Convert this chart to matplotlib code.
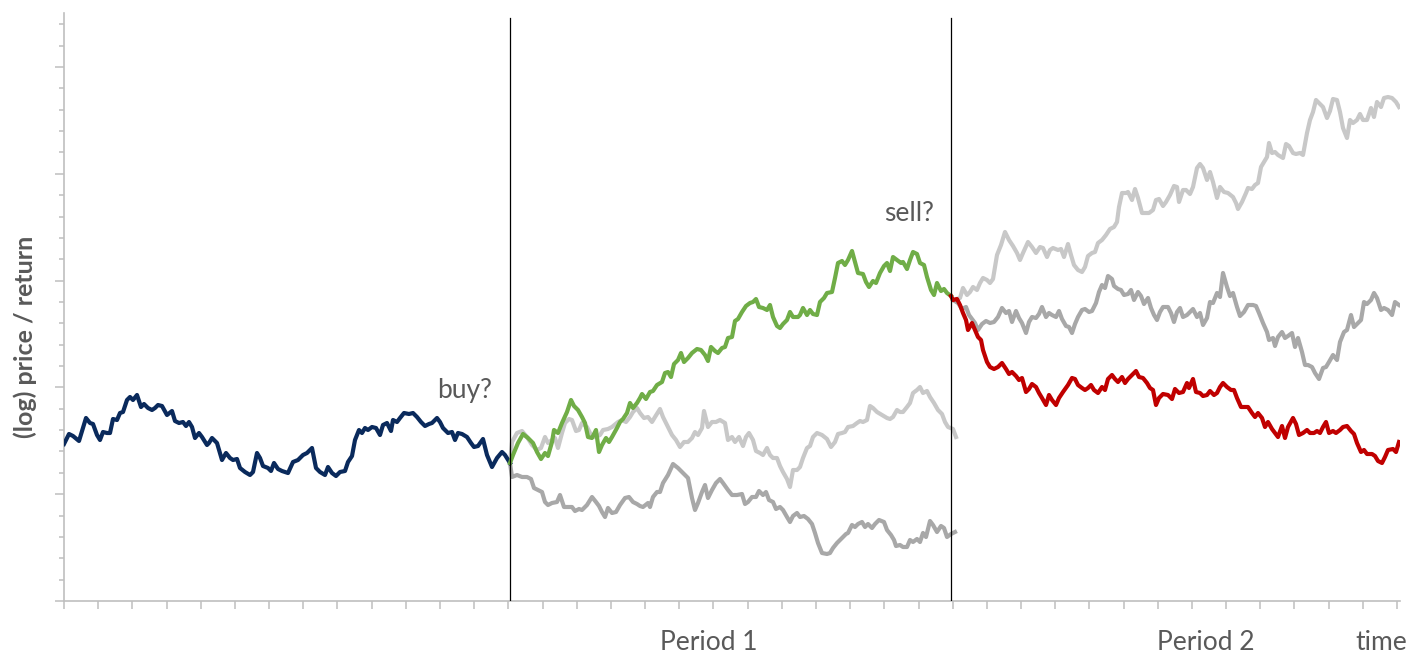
import matplotlib
matplotlib.use("Agg")
import matplotlib.pyplot as plt
from matplotlib.ticker import MultipleLocator

# time in days (one x tick = 34.18 days); value = log price index (one y tick = 21.36 points)
blue_t = [0,1,5,9,15,22,26,29,33,36,39,43,46,49,53,56,59,63,66,69,73,77,80,84,88,91,94,98,103,108,111,115,119,122,125,128,131,135,138,143,145,148,153,158,162,166,169,173,176,181,186,189,193,196,199,204,207,210,214,218,221,224,229,234,239,243,248,252,256,261,264,268,272,276,281,284,288,291,295,298,301,304,308,312,316,319,323,327,329,333,336,340,345,349,353,357,361,365,368,373,376,379,384,388,391,394,398,403,407,410,414,419,423,428,433,438,441,446]
blue_v = [157,159,167,165,160,183,178,177,166,161,169,168,168,182,181,188,189,201,204,201,206,194,197,193,191,193,196,195,186,190,180,178,179,175,179,174,163,168,164,156,158,163,158,141,148,143,141,142,133,129,126,129,148,143,135,133,130,138,132,130,129,128,139,141,146,148,153,133,129,126,134,128,125,129,130,139,145,161,171,168,173,171,174,173,166,176,178,170,181,179,183,188,187,188,184,179,175,177,178,183,179,173,168,169,161,168,167,164,158,154,155,162,146,134,143,149,146,138]

green_t = [446,449,454,459,464,469,473,477,481,484,488,490,494,498,503,507,510,514,518,521,524,528,532,535,538,542,545,548,553,556,559,563,566,569,573,576,578,582,586,589,593,598,601,604,607,610,614,617,620,624,628,633,637,641,644,647,651,654,658,661,664,668,671,674,678,682,686,689,692,695,699,703,706,709,713,716,719,723,726,729,734,736,739,743,746,749,753,756,760,763,768,771,774,778,781,784,788,791,794,799,802,805,809,812,816,820,823,826,829,833,837,839,843,846,849,853,856,860,863,867,870,873,877,880,883,887]
green_v = [138,146,158,167,163,158,149,142,148,145,159,171,168,178,189,201,195,191,184,178,164,163,171,149,156,163,159,164,173,179,182,188,198,193,198,203,207,202,209,210,216,219,228,229,224,237,241,248,239,243,248,252,251,246,240,254,250,248,253,254,263,264,280,282,289,295,298,299,302,294,293,291,296,284,275,273,277,281,289,284,284,286,293,286,291,287,286,299,303,308,309,323,338,340,336,341,350,339,328,327,319,314,320,318,328,335,338,330,344,341,338,339,332,341,349,347,338,336,324,311,306,318,310,312,308,305]

p1_light_t = [446,448,453,458,463,468,473,477,481,484,488,491,494,498,501,505,508,512,515,518,523,527,531,536,539,544,548,554,558,562,566,569,573,576,580,584,588,591,596,599,604,608,612,616,620,624,628,631,634,638,640,644,648,652,656,661,664,668,671,675,679,682,685,689,692,696,699,703,706,709,713,716,719,723,726,729,733,736,739,743,746,749,753,758,763,767,771,774,778,781,784,789,793,796,799,803,806,809,813,818,823,826,829,833,836,839,843,846,849,853,856,859,863,866,870,874,878,881,884,889,892]
p1_light_v = [138,159,168,170,164,156,151,153,164,158,161,163,153,168,178,182,181,170,171,178,174,166,164,166,171,172,174,179,181,179,184,189,193,188,183,184,179,184,192,184,174,166,161,154,159,159,163,169,166,173,190,174,179,179,181,178,161,164,159,164,155,164,168,161,150,148,146,153,146,143,143,135,129,122,114,131,131,134,143,153,155,164,168,166,162,154,159,167,168,169,174,175,178,180,179,181,195,193,189,186,183,182,184,191,189,189,194,198,208,211,214,208,210,204,198,191,187,179,174,172,164]

p1_dark_t = [446,448,453,458,463,467,470,474,478,481,484,488,493,496,500,504,508,511,515,518,523,528,532,535,538,541,544,548,552,556,561,565,569,573,576,579,584,586,589,593,596,599,604,609,614,619,624,628,631,634,638,641,644,648,652,656,659,664,668,673,678,681,684,688,692,695,699,702,705,709,712,716,719,723,726,729,733,736,740,744,748,751,754,758,763,766,769,773,778,782,784,788,791,794,798,801,804,808,811,815,820,823,827,830,832,836,839,843,846,849,853,856,859,862,866,869,873,877,880,883,887,891]
p1_dark_v = [138,124,126,124,124,122,113,111,109,99,96,98,99,106,94,94,94,90,92,91,96,104,99,95,89,84,93,88,89,96,103,104,99,97,95,94,98,94,104,109,109,118,126,137,133,128,123,103,91,98,109,116,103,111,118,122,118,111,106,106,107,97,99,104,104,110,106,109,101,99,92,94,91,84,79,85,88,84,85,82,77,68,58,48,47,48,53,58,63,67,68,76,74,77,79,74,77,73,77,81,79,71,66,61,55,56,54,54,61,59,62,59,68,64,80,76,69,75,73,64,67,69]

red_t = [887,889,893,896,899,902,904,908,911,914,917,919,923,926,930,934,938,942,945,948,952,955,958,962,965,968,972,975,978,982,985,988,992,995,999,1004,1008,1011,1014,1018,1021,1024,1027,1030,1034,1038,1041,1044,1048,1051,1054,1058,1061,1064,1068,1072,1075,1079,1083,1086,1089,1092,1095,1099,1104,1108,1111,1115,1119,1123,1125,1129,1132,1136,1139,1143,1146,1150,1153,1156,1159,1163,1167,1170,1173,1177,1180,1184,1188,1191,1194,1198,1201,1204,1208,1211,1214,1218,1221,1224,1229,1232,1235,1239,1243,1246,1250,1253,1256,1259,1262,1265,1269,1272,1276,1279,1283,1287,1290,1293,1297,1300,1303,1308,1311,1314,1318,1321,1324,1329,1332,1335]
red_v = [305,301,302,296,288,281,271,278,271,264,261,251,239,234,232,234,238,232,227,229,225,221,223,209,212,217,214,208,203,196,206,201,196,203,209,216,223,222,216,213,211,213,216,211,208,214,211,222,226,222,219,224,218,222,226,230,224,223,218,213,211,196,203,207,206,202,212,208,209,218,213,222,209,208,205,206,210,206,208,214,218,214,211,211,203,194,194,194,188,184,188,183,174,179,172,168,164,175,163,174,183,177,166,168,171,168,168,170,168,174,179,168,170,168,171,174,175,170,167,158,149,151,147,147,145,140,138,144,151,152,149,159]

p2_mid_t = [889,894,898,902,905,908,911,914,918,922,926,930,934,938,942,945,948,952,955,958,962,965,968,972,975,978,982,985,988,992,995,998,1002,1005,1008,1011,1014,1018,1021,1025,1028,1032,1035,1038,1041,1044,1048,1050,1054,1057,1060,1064,1067,1070,1074,1077,1080,1084,1087,1090,1093,1096,1099,1104,1107,1110,1113,1116,1119,1123,1126,1129,1133,1136,1139,1143,1146,1149,1153,1156,1159,1163,1166,1169,1173,1176,1180,1184,1189,1192,1195,1199,1203,1205,1209,1211,1214,1218,1221,1224,1228,1231,1234,1238,1241,1244,1248,1251,1255,1259,1262,1265,1269,1273,1276,1280,1283,1287,1290,1293,1297,1300,1303,1307,1310,1313,1317,1320,1324,1328,1331,1335]
p2_mid_v = [301,298,292,294,286,282,278,271,277,280,278,279,284,293,288,290,279,290,283,278,268,279,284,283,287,294,284,288,286,284,290,282,275,274,268,277,284,291,292,289,290,298,309,316,313,325,322,315,312,311,306,307,311,301,309,305,297,303,293,286,281,289,294,294,288,279,289,293,284,286,289,292,284,288,276,283,299,298,308,304,328,314,305,308,294,285,289,296,296,295,288,278,269,261,263,255,264,269,263,265,268,254,263,249,236,236,234,228,222,233,234,239,246,241,259,269,271,286,274,277,281,299,297,301,308,303,291,293,291,286,299,296]

p2_light_t = [889,896,899,903,906,909,913,916,919,923,926,929,933,937,941,945,949,953,956,959,964,968,972,976,979,983,986,989,994,997,1000,1004,1007,1010,1014,1018,1021,1024,1028,1031,1034,1038,1042,1046,1050,1053,1055,1058,1062,1064,1068,1071,1074,1078,1081,1085,1089,1092,1095,1099,1102,1106,1110,1113,1115,1119,1122,1126,1129,1133,1136,1139,1143,1146,1149,1153,1156,1160,1164,1169,1172,1174,1178,1182,1184,1188,1191,1194,1197,1200,1203,1205,1208,1211,1214,1219,1222,1225,1229,1232,1236,1239,1243,1246,1249,1252,1255,1259,1263,1266,1269,1273,1276,1279,1283,1286,1289,1293,1296,1299,1303,1307,1310,1313,1317,1320,1324,1328,1332,1335]
p2_light_v = [301,303,313,306,309,314,311,318,323,321,318,322,346,356,369,361,355,348,341,348,359,354,348,354,353,344,351,353,351,352,344,357,346,336,331,329,334,345,348,349,358,361,366,372,374,379,394,408,408,409,401,412,403,388,388,388,391,401,402,395,399,406,415,414,399,411,411,407,414,433,437,433,421,429,419,403,414,409,408,404,398,392,399,408,413,412,416,418,434,439,444,458,448,449,446,443,457,455,448,447,448,446,468,481,489,501,498,494,483,490,502,501,489,473,463,481,478,481,487,481,481,493,484,499,494,503,504,503,499,494]

period_bounds = [446, 887]
period_labels = ["Period 1", "Period 2"]
period_label_t = [645, 1142]

NAVY = "#0a2a5c"
GREEN = "#70ad47"
RED = "#c00000"
LIGHT = "#c8c8c8"
MID = "#a8a8a8"
TXT = "#595959"
AX = "#bfbfbf"

plt.rcParams['font.family'] = ['Lato', 'DejaVu Sans']

fig = plt.figure(figsize=(14.21, 6.53), dpi=100)
ax = fig.add_axes([64/1421, 52/653, 1336/1421, 588/653])
ax.set_xlim(0, 1336)
ax.set_ylim(0, 588)

lw = 3.0
ax.plot(p1_light_t, p1_light_v, color=LIGHT, lw=lw, solid_joinstyle='round', zorder=2)
ax.plot(p1_dark_t, p1_dark_v, color=MID, lw=lw, solid_joinstyle='round', zorder=2)
ax.plot(p2_light_t, p2_light_v, color=LIGHT, lw=lw, solid_joinstyle='round', zorder=2)
ax.plot(p2_mid_t, p2_mid_v, color=MID, lw=lw, solid_joinstyle='round', zorder=2)
ax.plot(blue_t, blue_v, color=NAVY, lw=lw, solid_joinstyle='round', zorder=3)
ax.plot(green_t, green_v, color=GREEN, lw=lw, solid_joinstyle='round', zorder=3)
ax.plot(red_t, red_v, color=RED, lw=lw, solid_joinstyle='round', zorder=3)

for b in period_bounds:
    ax.axvline(b, ymin=0, ymax=0.991, color="black", lw=0.9, zorder=4)

for s in ["top", "right"]:
    ax.spines[s].set_visible(False)
for s in ["left", "bottom"]:
    ax.spines[s].set_color(AX)
    ax.spines[s].set_linewidth(1.2)

ax.xaxis.set_major_locator(MultipleLocator(34.18))
ax.yaxis.set_major_locator(MultipleLocator(106.8))
ax.yaxis.set_minor_locator(MultipleLocator(21.36))
ax.tick_params(axis='x', which='major', direction='out', length=6, width=1.1, color=AX, labelbottom=False)
ax.tick_params(axis='y', which='major', direction='out', length=6.5, width=1.1, color=AX, labelleft=False)
ax.tick_params(axis='y', which='minor', direction='out', length=3.6, width=1.1, color=AX)

ax.text(401, 203, "buy?", ha='center', va='baseline', fontsize=19, color=TXT)
ax.text(845, 380, "sell?", ha='center', va='baseline', fontsize=19, color=TXT)
for lab, t in zip(period_labels, period_label_t):
    ax.text(t, -49, lab, ha='center', va='baseline', fontsize=19, color=TXT, clip_on=False)
ax.text(1317, -49, "time", ha='center', va='baseline', fontsize=19, color=TXT, clip_on=False)
fig.text(25/1421, 1 - 337/653, "(log) price / return", rotation=90, ha='center', va='center',
         fontsize=18, color=TXT, fontweight='bold')

fig.savefig("out.png", dpi=100)
